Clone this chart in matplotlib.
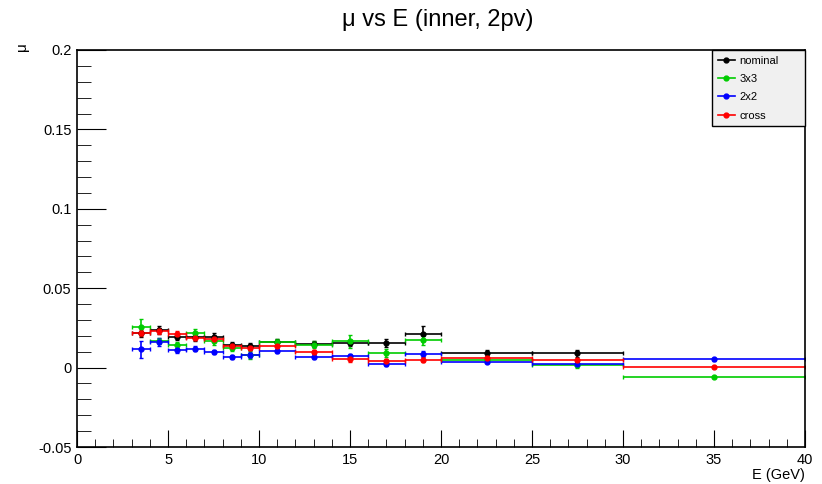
import numpy as np
import matplotlib.pyplot as plt
from matplotlib.lines import Line2D

plt.rcParams['font.family'] = ['Liberation Sans', 'DejaVu Sans']

# bin edges (GeV)
edges = [3, 4, 5, 6, 7, 8, 9, 10, 12, 14, 16, 18, 20, 25, 30, 40]

nominal = [0.022, 0.0235, 0.0193, 0.019, 0.0193, 0.014, 0.0134, 0.0161, 0.015, 0.0155, 0.0155, 0.0214, 0.0094, 0.009, np.nan]
nominal_err = [0.003, 0.0025, 0.002, 0.002, 0.0025, 0.002, 0.002, 0.002, 0.002, 0.002, 0.0028, 0.0048, 0.0018, 0.0022, np.nan]
g3x3 = [0.0256, 0.0166, 0.014, 0.0218, 0.0168, 0.0124, 0.0078, 0.0161, 0.0145, 0.0166, 0.0094, 0.0172, 0.005, 0.0015, -0.0059]
g3x3_err = [0.0048, 0.002, 0.002, 0.0025, 0.0025, 0.002, 0.0025, 0.002, 0.0022, 0.004, 0.0025, 0.003, 0.0015, 0.0018, 0.0008]
g2x2 = [0.0115, 0.016, 0.0109, 0.012, 0.0099, 0.0067, 0.0078, 0.0105, 0.0069, 0.0073, 0.0025, 0.0086, 0.0036, 0.0021, 0.0052]
g2x2_err = [0.0055, 0.0025, 0.0015, 0.0015, 0.0012, 0.0015, 0.002, 0.0012, 0.0015, 0.0015, 0.0015, 0.002, 0.001, 0.0012, 0.0008]
cross = [0.022, 0.0229, 0.0214, 0.0189, 0.0182, 0.0134, 0.0126, 0.0134, 0.0099, 0.0052, 0.004, 0.005, 0.0063, 0.0046, 0.0006]
cross_err = [0.002, 0.002, 0.0015, 0.0015, 0.0015, 0.0015, 0.0015, 0.0012, 0.0012, 0.0015, 0.0015, 0.0015, 0.001, 0.001, 0.0006]

series = [('nominal', nominal, nominal_err, 'black'),
          ('3x3', g3x3, g3x3_err, '#00cc00'),
          ('2x2', g2x2, g2x2_err, '#0000ff'),
          ('cross', cross, cross_err, '#ff0000')]

edges = np.array(edges, dtype=float)
x = (edges[:-1] + edges[1:]) / 2
xerr = (edges[1:] - edges[:-1]) / 2

fig = plt.figure(figsize=(8.22, 4.84), dpi=100)
ax = fig.add_axes([0.0937, 0.0764, 0.8856, 0.8203])

handles = []
for name, vals, errs, col in series:
    ax.errorbar(x, vals, xerr=xerr, yerr=errs, fmt='o', color=col, ms=3.5,
                elinewidth=1.2, capsize=1.5, capthick=1.0)
    handles.append(Line2D([], [], color=col, marker='o', ms=3.5, lw=1.2, label=name))

ax.set_xlim(0, 40)
ax.set_ylim(-0.05, 0.2)
ax.set_xticks(np.arange(0, 41, 5))
ax.set_xticks(np.arange(0, 41, 1), minor=True)
ax.set_yticks([-0.05, 0, 0.05, 0.1, 0.15, 0.2])
ax.set_yticklabels(['-0.05', '0', '0.05', '0.1', '0.15', '0.2'])
ax.set_yticks(np.arange(-0.05, 0.2001, 0.01), minor=True)
ax.tick_params(which='both', direction='in', top=False, right=False, labelsize=10.5)
ax.tick_params(axis='x', which='major', length=12, pad=4)
ax.tick_params(axis='x', which='minor', length=6)
ax.tick_params(axis='y', which='major', length=21, pad=4)
ax.tick_params(axis='y', which='minor', length=10)
for s in ax.spines.values():
    s.set_linewidth(1.2)

ax.set_xlabel('E (GeV)', fontsize=10.5, loc='right', labelpad=1)
fig.text(0.027, 0.895, 'μ', rotation=90, fontsize=11, ha='center', va='bottom')
fig.text(0.532, 0.958, 'μ vs E (inner, 2pv)', fontsize=17, ha='center', va='center')

# legend box: about 93 x 75 px in the top right corner of the axes
lw_ax, lh_ax = 93 / 728, 75 / 397
leg = ax.legend(handles=handles, loc='upper left',
                bbox_to_anchor=(1 - lw_ax, 1 - lh_ax, lw_ax, lh_ax), mode='expand',
                borderaxespad=0, fancybox=False, edgecolor='black', facecolor='#f0f0f0',
                framealpha=1, fontsize=8, handlelength=1.6, labelspacing=0.75,
                borderpad=0.5, handletextpad=0.4)
leg.get_frame().set_linewidth(1.0)

fig.savefig('out.png', dpi=100)
